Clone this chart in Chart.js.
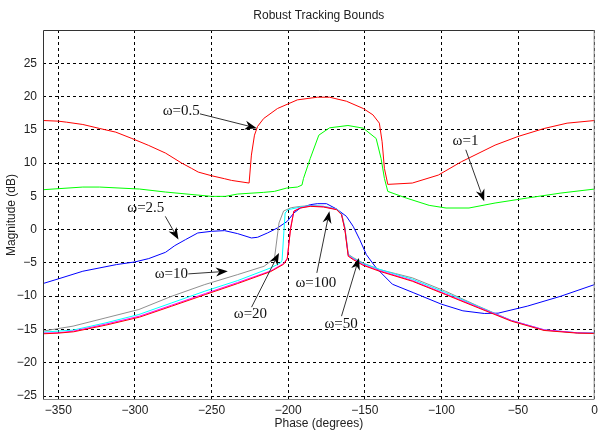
<!DOCTYPE html>
<html>
<head>
    <title>Robust Tracking Bounds</title>
    <meta http-equiv="content-type" content="text/html;charset=UTF-8">
    <script src="https://cdn.jsdelivr.net/npm/chart.js"></script>
    <style>
        html, body {
            margin: 0;
            padding: 0;
            background: white;
        }

        #box {
            width: 601px;
            height: 433px;
        }
    </style>
</head>
<body>
<div id="box"><canvas id="boundsChart" width="601" height="433"></canvas></div>
<script>
    // tick labels
    const phaseTicks = [-350, -300, -250, -200, -150, -100, -50, 0];
    const magTicks = [-25, -20, -15, -10, -5, 0, 5, 10, 15, 20, 25];

    // w = 0.5
    const phase05 = [-360, -350, -344.7, -334, -323, -312.5, -302, -291, -280, -269.5, -263, -258.7, -250, -241.5, -237,
        -225.5, -224, -222, -220, -216, -207, -194, -181, -173, -162, -151, -144.7, -140.5, -138.7, -137.2, -135,
        -119, -102, -87, -65, -50, -33, -18, 0];
    const mag05 = [16.4, 16.3, 16.15, 15.8, 15.2, 14.65, 13.7, 12.65, 11.5, 10.0, 9.2, 8.65, 8.1, 7.65, 7.4,
        7.0, 11.2, 14.2, 15.5, 16.7, 18.2, 19.5, 19.9, 19.9, 19.3, 18.2, 17.25, 16.0, 13.2, 9.2, 6.8,
        7.0, 8.2, 10.2, 12.7, 14.0, 15.2, 16.0, 16.4];

    // w = 1
    const phase1 = [-360, -334, -323, -297, -280, -250, -241, -233, -216, -209, -201, -194, -191, -190, -185.6, -180,
        -173, -161, -151, -142.6, -139.4, -137.2, -135, -123, -108, -97, -82, -65, -44, -22, 0];
    const mag1 = [6.0, 6.4, 6.4, 6.1, 5.65, 5.0, 5.0, 5.35, 5.6, 5.75, 6.25, 6.4, 6.7, 7.7, 10.7, 14.2,
        15.3, 15.65, 15.25, 13.7, 10.7, 7.7, 5.75, 4.75, 3.65, 3.25, 3.25, 4.0, 4.75, 5.5, 6.1];

    // w = 2.5
    const phase25 = [-360, -350, -334, -312, -300, -291, -280, -274, -267, -259, -250, -241.5, -233, -224, -220, -213.5,
        -207, -200.6, -196.3, -192, -185.6, -181, -175, -168.4, -162, -157.6, -153.3, -149, -142.6, -132, -118, -100,
        -86, -72, -63, -44, -22, 0];
    const mag25 = [-8.1, -7.4, -6.25, -5.25, -4.85, -4.35, -3.4, -2.4, -1.5, -0.5, -0.25, -0.15, -0.6, -1.25, -1.15, -0.5,
        0.25, 1.25, 2.5, 3.25, 3.75, 3.9, 3.9, 3.1, 2.0, 0.5, -1.5, -3.75, -5.75, -8.2, -9.5, -11.2,
        -12.2, -12.6, -12.55, -11.5, -10.0, -8.25];

    // w = 10
    const phase10 = [-360, -340.4, -318.9, -297.4, -275.9, -254.4, -232.9, -215.7, -211.4, -209, -206, -203, -198, -192,
        -185.6, -177, -168.4, -165.2, -163, -160.8, -157.6, -151.2, -140.5, -130, -118.9, -97.4, -75.9, -54.4, -33, -11.4, 0];
    const mag10 = [-15.25, -14.5, -13.25, -12.0, -10.0, -8.25, -6.75, -5.5, -4.75, -4.4, 1.0, 2.8, 3.3, 3.5,
        3.6, 3.5, 3.1, 2.4, 0.3, -3.7, -4.2, -5.0, -6.0, -6.6, -7.25, -9.25, -11.5, -13.65, -15.1, -15.5, -15.6];

    // w = 20
    const phase20 = [-360, -340.4, -318.9, -297.4, -275.9, -254.4, -232.9, -211.4, -205, -204, -202, -200, -192,
        -185.6, -177, -168.4, -165.2, -163, -160.8, -157.6, -151.2, -140.5, -130, -119, -97.4, -76, -54.4, -33, -11.4, 0];
    const mag20 = [-15.4, -15.1, -14.0, -12.75, -11.0, -9.25, -7.65, -5.75, -5.0, -4.6, 2.5, 3.0, 3.4,
        3.6, 3.5, 3.1, 2.4, 0.3, -3.8, -4.3, -5.1, -5.95, -6.7, -7.45, -9.45, -11.55, -13.65, -15.05, -15.5, -15.5];

    // w = 50
    const phase50 = [-360, -350, -340, -319, -297, -276, -254, -233, -211.4, -203, -200.6, -198.5, -196.3, -192,
        -185.6, -177, -168.4, -165.2, -163, -160.8, -157.6, -151.2, -140.5, -119, -97.4, -76, -54.4, -33, -11.4, 0];
    const mag50 = [-15.55, -15.5, -15.25, -14.2, -13.0, -11.35, -9.6, -7.95, -6.2, -5.1, -4.3, 0.2, 2.8, 3.3,
        3.55, 3.45, 3.05, 2.3, 0.1, -3.9, -4.4, -5.25, -6.15, -7.65, -9.65, -11.65, -13.65, -15.05, -15.5, -15.55];

    // w = 100
    const phase100 = [-360, -350, -340, -319, -297, -276, -254, -233, -211.4, -203, -200.6, -198.5, -196.3, -192,
        -185.6, -177, -168.4, -165.2, -163, -160.8, -157.6, -151.2, -140.5, -119, -97.4, -76, -54.4, -33, -11.4, 0];
    const mag100 = [-15.65, -15.55, -15.35, -14.35, -13.15, -11.5, -9.75, -8.1, -6.3, -5.2, -4.4, 0, 2.75, 3.25,
        3.5, 3.4, 3.0, 2.25, 0, -4.0, -4.5, -5.35, -6.25, -7.75, -9.75, -11.75, -13.75, -15.15, -15.55, -15.6];

    // labels with arrows (data coordinates)
    const notes = [
        {text: 'ω=0.5', at: [-281.9, 17.75], from: [-257.6, 17.4], to: [-220.5, 15.25]},
        {text: 'ω=1', at: [-92.7, 13.35], from: [-84.1, 12.0], to: [-72.1, 4.25]},
        {text: 'ω=2.5', at: [-305, 3.25], from: [-280.2, 2.0], to: [-271.6, -1.5]},
        {text: 'ω=10', at: [-287.1, -6.65], from: [-265.2, -6.65], to: [-239.4, -6.25]},
        {text: 'ω=20', at: [-235.5, -12.75], from: [-223.9, -11.65], to: [-206, -3.5]},
        {text: 'ω=100', at: [-195.3, -8.0], from: [-181.3, -6.5], to: [-173.1, 2.75]},
        {text: 'ω=50', at: [-176.3, -14.15], from: [-165.2, -13.0], to: [-153.8, -4.25]}
    ];

    function pts(xs, ys) {
        return xs.map((x, i) => ({x: x, y: ys[i]}));
    }

    function series(xs, ys, color) {
        return {
            data: pts(xs, ys),
            borderColor: color,
            borderWidth: 1,
            pointRadius: 0,
            tension: 0,
            fill: false
        };
    }

    // first dataset is drawn on top
    const datasets = [
        series(phase100, mag100, '#ff0000'),
        series(phase50, mag50, '#ff00ff'),
        series(phase20, mag20, '#00ffff'),
        series(phase10, mag10, '#909090'),
        series(phase25, mag25, '#0000ff'),
        series(phase1, mag1, '#00ff00'),
        series(phase05, mag05, '#ff0000')
    ];

    const frameAndNotes = {
        id: 'frameAndNotes',
        afterDraw(chart) {
            const ctx = chart.ctx;
            const a = chart.chartArea;
            const xs = chart.scales.x;
            const ys = chart.scales.y;
            ctx.save();

            // title
            ctx.fillStyle = '#222';
            ctx.font = '12px "Liberation Sans", Arial, sans-serif';
            ctx.textAlign = 'center';
            ctx.textBaseline = 'middle';
            ctx.fillText('Robust Tracking Bounds', (a.left + a.right) / 2, 16);

            // box
            ctx.lineWidth = 1;
            ctx.strokeStyle = '#333';
            ctx.beginPath();
            ctx.moveTo(a.left + 0.5, a.bottom);
            ctx.lineTo(a.left + 0.5, a.top + 0.5);
            ctx.lineTo(a.right, a.top + 0.5);
            ctx.stroke();
            ctx.strokeStyle = '#888';
            ctx.beginPath();
            ctx.moveTo(a.left, a.bottom - 0.5);
            ctx.lineTo(a.right - 0.5, a.bottom - 0.5);
            ctx.lineTo(a.right - 0.5, a.top);
            ctx.stroke();

            // labels and arrows
            ctx.font = '15px "Liberation Serif", "Times New Roman", serif';
            ctx.textAlign = 'left';
            notes.forEach(n => {
                ctx.fillStyle = '#111';
                ctx.fillText(n.text, xs.getPixelForValue(n.at[0]), ys.getPixelForValue(n.at[1]));
                const x0 = xs.getPixelForValue(n.from[0]), y0 = ys.getPixelForValue(n.from[1]);
                const x1 = xs.getPixelForValue(n.to[0]), y1 = ys.getPixelForValue(n.to[1]);
                const ang = Math.atan2(y1 - y0, x1 - x0);
                const c = Math.cos(ang), s = Math.sin(ang);
                const len = 12, half = 4.5;
                ctx.strokeStyle = '#333';
                ctx.beginPath();
                ctx.moveTo(x0, y0);
                ctx.lineTo(x1 - c * len * 0.7, y1 - s * len * 0.7);
                ctx.stroke();
                ctx.fillStyle = '#000';
                ctx.beginPath();
                ctx.moveTo(x1, y1);
                ctx.lineTo(x1 - c * len - s * half, y1 - s * len + c * half);
                ctx.lineTo(x1 - c * len * 0.7, y1 - s * len * 0.7);
                ctx.lineTo(x1 - c * len + s * half, y1 - s * len - c * half);
                ctx.closePath();
                ctx.fill();
            });
            ctx.restore();
        }
    };

    const tickFont = {family: '"Liberation Sans", Arial, sans-serif', size: 12};
    const minus = v => String(v).replace('-', '\u2212');

    new Chart(document.getElementById('boundsChart').getContext('2d'), {
        type: 'line',
        data: {datasets: datasets},
        options: {
            responsive: false,
            animation: false,
            layout: {padding: {top: 30, right: 1, left: 0, bottom: 0}},
            plugins: {
                legend: {display: false},
                tooltip: {enabled: false}
            },
            scales: {
                x: {
                    type: 'linear',
                    min: -360,
                    max: 0,
                    afterBuildTicks: s => { s.ticks = phaseTicks.map(v => ({value: v})); },
                    afterFit: s => { s.height = 33; },
                    grid: {color: '#000', lineWidth: 1, drawTicks: false},
                    border: {display: false, dash: [3, 3]},
                    ticks: {color: '#222', font: tickFont, padding: 3, maxRotation: 0, callback: minus},
                    title: {
                        display: true,
                        text: 'Phase (degrees)',
                        color: '#222',
                        font: tickFont,
                        padding: {top: 0, bottom: 2.5}
                    }
                },
                y: {
                    type: 'linear',
                    min: -25.6,
                    max: 30,
                    afterBuildTicks: s => { s.ticks = magTicks.map(v => ({value: v})); },
                    afterFit: s => { s.width = 43; },
                    grid: {color: '#000', lineWidth: 1, drawTicks: false},
                    border: {display: false, dash: [3, 3]},
                    ticks: {color: '#222', font: tickFont, padding: 6, callback: minus},
                    title: {
                        display: true,
                        text: 'Magnitude (dB)',
                        color: '#222',
                        font: tickFont,
                        padding: {top: 4, bottom: 0}
                    }
                }
            }
        },
        plugins: [frameAndNotes]
    });
</script>
</body>
</html>
